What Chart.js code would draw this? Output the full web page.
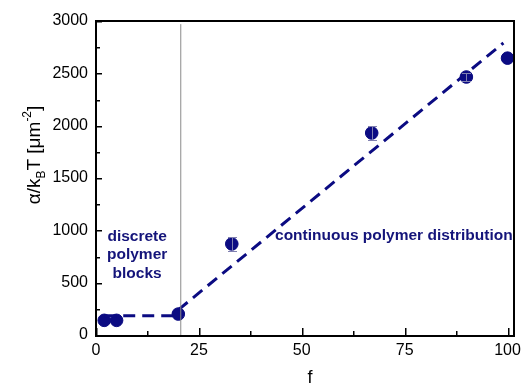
<!DOCTYPE html>
<html>
<head>
<meta charset="utf-8">
<script src="https://cdn.jsdelivr.net/npm/chart.js@4.4.1/dist/chart.umd.min.js"></script>
<style>
html,body{margin:0;padding:0;background:#fff;}
#wrap{width:527px;height:385px;}
</style>
</head>
<body>
<div id="wrap"><canvas id="c" width="527" height="385"></canvas></div>
<script>
// ---- data ----
const fValues = [2, 5, 20, 33, 67, 90, 100];
const alphaValues = [140, 140, 200, 870, 1930, 2465, 2645];
const alphaErrors = [0, 0, 0, 70, 70, 35, 0];
const fitLowX = [2, 21];
const fitLowY = [185, 185];
const fitHighX = [20, 99];
const fitHighY = [240, 2790];
const boundaryX = [20.6, 20.6];
const boundaryY = [0, 2970];
const xTicks = [0, 25, 50, 75, 100];
const yTicks = [0, 500, 1000, 1500, 2000, 2500, 3000];
const xMinorTicks = [12.5, 37.5, 62.5, 87.5];
const yMinorTicks = [250, 750, 1250, 1750, 2250, 2750];
const labelDiscrete = ['discrete', 'polymer', 'blocks'];
const labelContinuous = 'continuous polymer distribution';

const NAVY = '#0b0b82';
const FONT = '"Liberation Sans", Arial, sans-serif';
const zip = (xs, ys) => xs.map((x, i) => ({x, y: ys[i]}));

const decor = {
  id: 'decor',
  afterDraw(chart) {
    const ctx = chart.ctx;
    const a = chart.chartArea;
    const xs = chart.scales.x, ys = chart.scales.y;
    ctx.save();
    ctx.setLineDash([]);
    ctx.fillStyle = '#8080b0';
    fValues.forEach((f, i) => {
      const e = alphaErrors[i];
      if (!e) return;
      const px = Math.round(xs.getPixelForValue(f));
      const y1 = Math.round(ys.getPixelForValue(alphaValues[i] + e));
      const y2 = Math.round(ys.getPixelForValue(alphaValues[i] - e));
      ctx.fillRect(px, y1, 1, y2 - y1);
      ctx.fillRect(px - 4, y1, 9, 1);
      ctx.fillRect(px - 4, y2, 9, 1);
    });
    const L = Math.round(a.left), R = Math.round(a.right);
    const T = Math.round(a.top), B = Math.round(a.bottom);
    ctx.fillStyle = 'rgb(0,0,0)';
    ctx.fillRect(L - 1, T - 1, R - L + 2, 2);
    ctx.fillRect(L - 1, B, R - L + 2, 2);
    ctx.fillRect(L - 1, T - 1, 2, B - T + 3);
    ctx.fillRect(R - 1, T - 1, 2, B - T + 3);
    xTicks.forEach(v => { const p = Math.round(xs.getPixelForValue(v)); ctx.fillRect(p, B - 7, 1.5, 7); });
    xMinorTicks.forEach(v => { const p = Math.round(xs.getPixelForValue(v)); ctx.fillRect(p, B - 4, 1.5, 4); });
    yTicks.forEach(v => { const p = Math.round(ys.getPixelForValue(v)); ctx.fillRect(L, p, 6, 1.5); });
    yMinorTicks.forEach(v => { const p = Math.round(ys.getPixelForValue(v)); ctx.fillRect(L, p, 4, 1.5); });
    ctx.fillStyle = '#14147a';
    ctx.font = 'bold 15.5px ' + FONT;
    ctx.textAlign = 'center';
    ctx.textBaseline = 'middle';
    const dx = xs.getPixelForValue(10);
    const dy0 = ys.getPixelForValue(940);
    labelDiscrete.forEach((t, i) => ctx.fillText(t, dx, dy0 + i * 18.5));
    ctx.textAlign = 'left';
    ctx.fillText(labelContinuous, xs.getPixelForValue(43.5), ys.getPixelForValue(950));
    ctx.fillStyle = '#000';
    ctx.font = '18px ' + FONT;
    ctx.textAlign = 'center';
    ctx.fillText('f', xs.getPixelForValue(52), 378);
    ctx.translate(33, 155);
    ctx.rotate(-Math.PI / 2);
    ctx.textAlign = 'left';
    ctx.textBaseline = 'alphabetic';
    const parts = [
      {t: 'α/k', s: 19, dy: 0},
      {t: 'B', s: 12, dy: 5},
      {t: 'T [μm', s: 19, dy: 0},
      {t: '-2', s: 12, dy: -9},
      {t: ']', s: 19, dy: 0}
    ];
    let w = 0;
    parts.forEach(p => { ctx.font = p.s + 'px ' + FONT; w += ctx.measureText(p.t).width; });
    let cx = -w / 2;
    parts.forEach(p => { ctx.font = p.s + 'px ' + FONT; ctx.fillText(p.t, cx, 7 + p.dy); cx += ctx.measureText(p.t).width; });
    ctx.restore();
  }
};

new Chart(document.getElementById('c'), {
  type: 'scatter',
  data: {
    datasets: [
      {data: zip(boundaryX, boundaryY), showLine: true, borderColor: '#8a8a8a', borderWidth: 1, pointRadius: 0},
      {data: zip(fitLowX, fitLowY), showLine: true, borderColor: NAVY, borderWidth: 3, borderDash: [12, 7], pointRadius: 0},
      {data: zip(fitHighX, fitHighY), showLine: true, borderColor: NAVY, borderWidth: 3, borderDash: [12, 7], pointRadius: 0},
      {data: zip(fValues, alphaValues), backgroundColor: NAVY, borderColor: NAVY, pointRadius: 6.3, pointHoverRadius: 6.3}
    ]
  },
  options: {
    responsive: false,
    animation: false,
    events: [],
    layout: {padding: {left: 0, right: 9, top: 21, bottom: 0}},
    plugins: {legend: {display: false}, tooltip: {enabled: false}},
    scales: {
      x: {
        type: 'linear', min: 0, max: 101.5,
        afterBuildTicks: s => { s.ticks = xTicks.map(v => ({value: v})); },
        afterFit: s => { s.height = 50; },
        grid: {display: false, drawTicks: false},
        border: {display: false},
        ticks: {color: '#000', font: {family: FONT, size: 16}, padding: 6, maxRotation: 0, callback: v => String(v)}
      },
      y: {
        type: 'linear', min: 0, max: 3000,
        afterBuildTicks: s => { s.ticks = yTicks.map(v => ({value: v})); },
        afterFit: s => { s.width = 96; },
        grid: {display: false, drawTicks: false},
        border: {display: false},
        ticks: {color: '#000', font: {family: FONT, size: 16}, padding: 8, callback: v => String(v)}
      }
    }
  },
  plugins: [decor]
});
</script>
</body>
</html>
